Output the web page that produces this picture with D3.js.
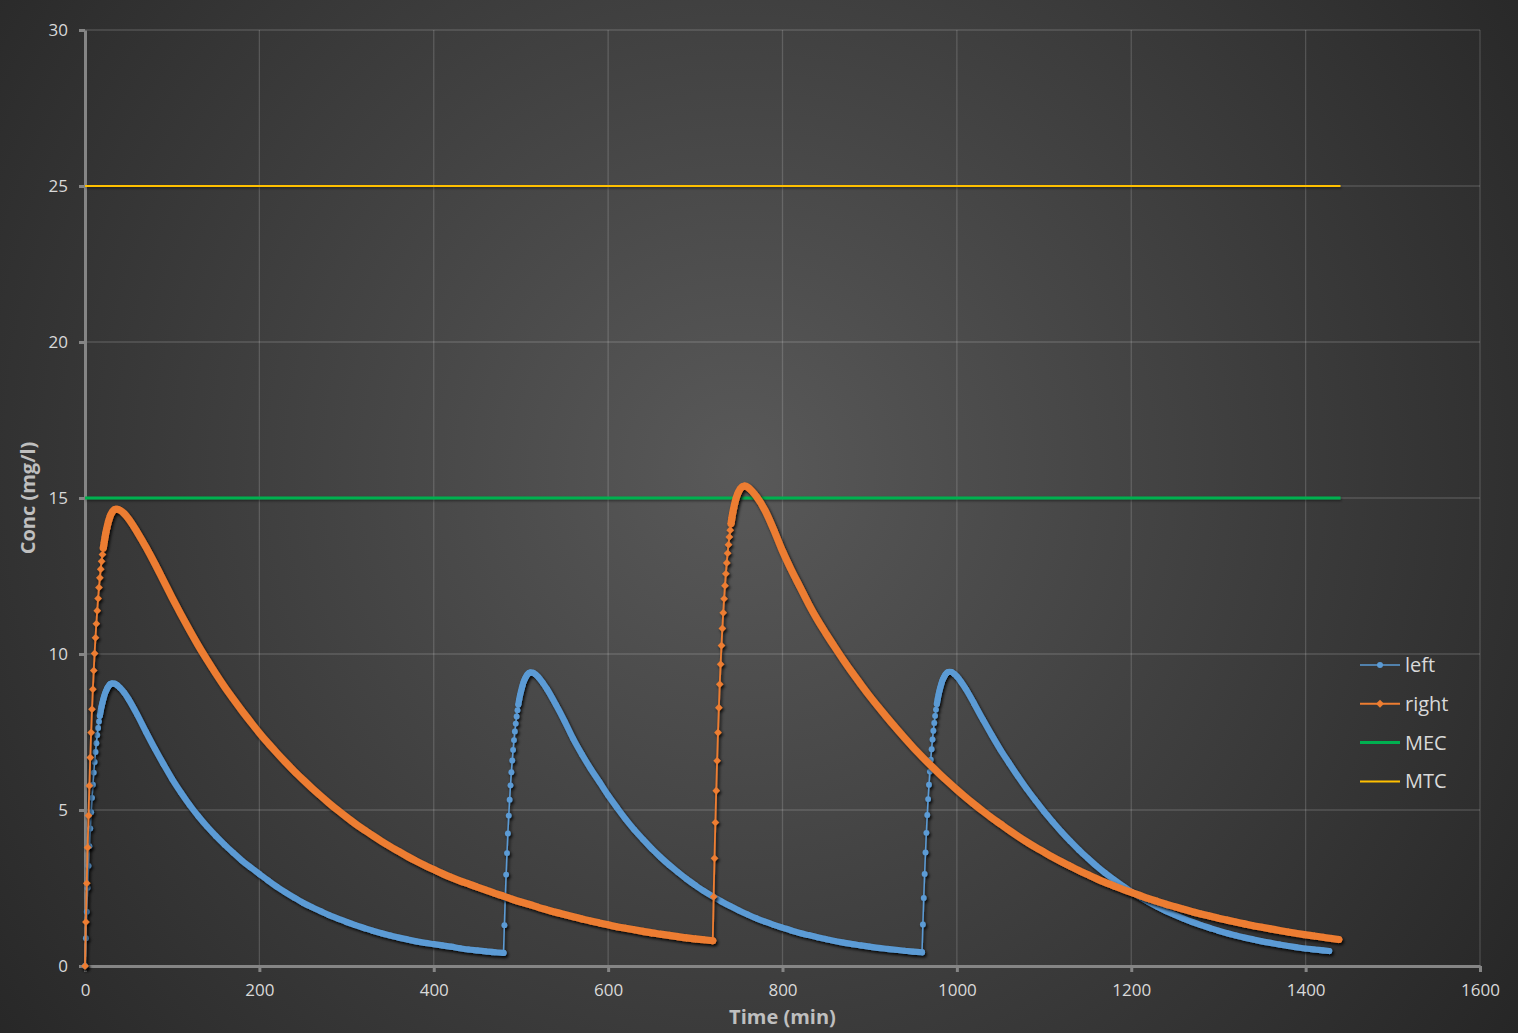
<!DOCTYPE html>
<html>
<head>
<meta charset="utf-8">
<script src="https://cdn.jsdelivr.net/npm/d3@7"></script>
<style>
  html, body { margin: 0; padding: 0; background: #2a2a2a; }
  svg { display: block; font-family: "Open Sans", "Segoe UI", sans-serif; }
</style>
</head>
<body>
<script>
// concentration data (time in min, conc in mg/l)
const leftTime = [
  0,1,2,3,4,5,6,7,8,9,10,11,12,13,14,15,16,17,18,19,20,21,22,23,24,25,26,27,28,29,30,31,
  34,37,40,45,
  50,60,70,80,90,100,110,120,130,140,150,160,170,180,190,200,210,220,230,240,250,260,270,280,290,
  300,310,320,330,340,350,360,370,380,390,400,410,420,430,440,450,460,470,480,
  481,482,483,484,485,486,487,488,489,490,491,492,493,494,495,496,497,498,499,500,501,502,503,504,505,
  506,507,508,509,510,511,
  514,517,520,525,
  530,540,550,560,570,580,590,600,610,620,630,640,650,660,670,680,690,700,710,720,730,740,750,760,770,
  780,790,800,810,820,830,840,850,860,870,880,890,900,910,920,930,940,950,960,
  961,962,963,964,965,966,967,968,969,970,971,972,973,974,975,976,977,978,979,980,981,982,983,984,985,
  986,987,988,989,990,991,
  994,997,1000,1005,
  1010,1020,1030,1040,1050,1060,1070,1080,1090,1100,1110,1120,1130,1140,1150,1160,1170,1180,1190,1200,
  1210,1220,1230,1240,1250,1260,1270,1280,1290,1300,1310,1320,1330,1340,1350,1360,1370,1380,1390,1400,
  1410,1420,1427
];
const leftConc = [
  0,0.89,1.74,2.51,3.21,3.84,4.41,4.93,5.39,5.81,6.2,6.54,6.86,7.14,7.4,7.63,7.84,8.02,8.18,8.32,8.44,
  8.55,8.65,8.74,8.81,8.87,8.93,8.97,9.01,9.04,9.05,9.06,
  9.05,9.0,8.92,8.76,
  8.55,8.05,7.5,6.97,6.47,5.99,5.56,5.16,4.8,4.47,4.17,3.89,3.63,3.38,3.16,2.95,2.74,2.54,2.36,2.19,
  2.03,1.89,1.76,1.63,1.52,1.41,1.31,1.22,1.13,1.05,0.98,0.91,0.85,0.79,0.74,0.7,0.66,0.62,0.57,0.53,
  0.5,0.47,0.44,0.42,
  1.31,2.16,2.93,3.62,4.25,4.82,5.33,5.79,6.21,6.59,6.93,7.24,7.52,7.77,8.0,8.2,8.38,8.54,8.68,8.8,
  8.91,9.01,9.1,9.17,9.23,9.28,9.33,9.36,9.39,9.4,9.41,
  9.4,9.34,9.26,9.08,
  8.87,8.38,7.85,7.28,6.78,6.32,5.9,5.47,5.08,4.71,4.37,4.06,3.76,3.49,3.24,3.01,2.79,2.59,2.4,2.23,
  2.07,1.92,1.78,1.65,1.53,1.42,1.32,1.23,1.14,1.06,0.99,0.92,0.86,0.8,0.75,0.7,0.66,0.62,0.58,0.55,
  0.52,0.49,0.46,0.44,
  1.33,2.18,2.95,3.64,4.27,4.84,5.35,5.81,6.23,6.61,6.95,7.26,7.54,7.79,8.02,8.22,8.4,8.56,8.7,8.82,
  8.93,9.03,9.12,9.19,9.25,9.3,9.35,9.38,9.41,9.42,9.43,
  9.42,9.36,9.28,9.1,
  8.89,8.4,7.89,7.4,6.93,6.5,6.08,5.68,5.31,4.95,4.62,4.3,4.0,3.72,3.46,3.21,2.98,2.77,2.57,2.38,
  2.21,2.05,1.9,1.76,1.64,1.52,1.41,1.31,1.22,1.13,1.05,0.98,0.91,0.85,0.79,0.74,0.69,0.64,0.6,0.56,
  0.53,0.5,0.48
];

const rightTime = [
  0,1,2,3,4,5,6,7,8,9,10,11,12,13,14,15,16,17,18,19,20,21,22,23,24,25,26,27,28,29,30,31,32,33,34,35,36,37,
  40,45,
  50,60,70,80,90,100,110,120,130,140,150,160,170,180,190,200,210,220,230,240,250,260,270,280,290,
  300,310,320,330,340,350,360,370,380,390,400,410,420,430,440,450,460,470,480,490,500,510,520,530,540,
  550,560,570,580,590,600,610,620,630,640,650,660,670,680,690,700,710,720,
  721,722,723,724,725,726,727,728,729,730,731,732,733,734,735,736,737,738,739,740,741,742,743,744,745,
  746,747,748,749,750,751,752,753,754,755,756,757,
  760,765,
  770,780,790,800,810,820,830,840,850,860,870,880,890,900,910,920,930,940,950,960,970,980,990,1000,
  1010,1020,1030,1040,1050,1060,1070,1080,1090,1100,1110,1120,1130,1140,1150,1160,1170,1180,1190,1200,
  1210,1220,1230,1240,1250,1260,1270,1280,1290,1300,1310,1320,1330,1340,1350,1360,1370,1380,1390,1400,
  1410,1420,1430,1438
];
const rightConc = [
  0,1.41,2.65,3.8,4.82,5.78,6.68,7.48,8.23,8.87,9.47,10.02,10.52,10.97,11.39,11.78,12.13,12.44,12.72,
  12.97,13.19,13.4,13.58,13.75,13.9,14.03,14.15,14.26,14.35,14.43,14.49,14.54,14.58,14.61,14.63,14.64,
  14.64,14.64,
  14.61,14.5,
  14.33,13.9,13.42,12.9,12.35,11.8,11.27,10.76,10.27,9.81,9.37,8.95,8.56,8.18,7.82,7.47,7.14,6.83,6.53,
  6.24,5.97,5.71,5.46,5.22,4.99,4.77,4.56,4.37,4.18,4.0,3.83,3.67,3.51,3.36,3.22,3.09,2.96,2.84,2.73,
  2.63,2.53,2.43,2.33,2.24,2.14,2.05,1.97,1.88,1.8,1.72,1.65,1.58,1.51,1.44,1.38,1.32,1.26,1.21,1.16,
  1.11,1.06,1.02,0.98,0.94,0.9,0.87,0.84,0.81,
  2.22,3.45,4.6,5.62,6.58,7.48,8.28,9.03,9.67,10.27,10.82,11.32,11.77,12.19,12.57,12.92,13.23,13.5,
  13.75,13.97,14.18,14.37,14.53,14.67,14.8,14.91,15.01,15.09,15.16,15.22,15.27,15.31,15.34,15.36,15.37,
  15.38,15.38,
  15.35,15.22,
  15.05,14.6,13.98,13.3,12.7,12.15,11.6,11.1,10.65,10.22,9.8,9.4,9.02,8.65,8.3,7.96,7.63,7.31,7.0,6.71,
  6.43,6.16,5.9,5.65,5.41,5.18,4.96,4.75,4.55,4.35,4.16,3.98,3.81,3.65,3.49,3.34,3.2,3.06,2.93,2.8,
  2.68,2.57,2.46,2.36,2.26,2.16,2.07,1.98,1.9,1.82,1.74,1.67,1.6,1.53,1.47,1.41,1.35,1.29,1.24,1.19,
  1.14,1.09,1.04,1.0,0.96,0.92,0.88,0.85
];

// reference levels
const mecLevel = 15;
const mtcLevel = 25;
const levelSpan = [0, 1440];

const xTicks = [0, 200, 400, 600, 800, 1000, 1200, 1400, 1600];
const yTicks = [0, 5, 10, 15, 20, 25, 30];

const W = 1518, H = 1033;
const m = {top: 30, right: 38, bottom: 67, left: 85};

const x = d3.scaleLinear().domain([0, 1600]).range([m.left, W - m.right]);
const y = d3.scaleLinear().domain([0, 30]).range([H - m.bottom, m.top]);

const svg = d3.select('body').append('svg')
    .attr('width', W)
    .attr('height', H);

const defs = svg.append('defs');
const bg = defs.append('radialGradient')
    .attr('id', 'bg')
    .attr('gradientUnits', 'userSpaceOnUse')
    .attr('cx', 740).attr('cy', 470).attr('r', 960);
bg.append('stop').attr('offset', '0%').attr('stop-color', '#595959');
bg.append('stop').attr('offset', '100%').attr('stop-color', '#262626');

const shadow = defs.append('filter')
    .attr('id', 'shadow')
    .attr('filterUnits', 'userSpaceOnUse')
    .attr('x', 0).attr('y', 0)
    .attr('width', W).attr('height', H);
shadow.append('feDropShadow')
    .attr('dx', 1.5).attr('dy', 2)
    .attr('stdDeviation', 1.8)
    .attr('flood-color', '#000')
    .attr('flood-opacity', 0.9);

const softShadow = defs.append('filter')
    .attr('id', 'softShadow')
    .attr('filterUnits', 'userSpaceOnUse')
    .attr('x', 0).attr('y', 0)
    .attr('width', W).attr('height', H);
softShadow.append('feDropShadow')
    .attr('dx', 1).attr('dy', 1.5)
    .attr('stdDeviation', 1.2)
    .attr('flood-color', '#000')
    .attr('flood-opacity', 0.45);

svg.append('rect')
    .attr('width', W).attr('height', H)
    .attr('fill', 'url(#bg)');

// gridlines
const grid = svg.append('g');
grid.selectAll('.gx')
    .data(xTicks.slice(1))
    .enter().append('line')
    .attr('x1', d => x(d)).attr('x2', d => x(d))
    .attr('y1', y(0)).attr('y2', y(30))
    .attr('stroke', 'rgba(255,255,255,0.16)')
    .attr('stroke-width', 1.3);
grid.selectAll('.gy')
    .data(yTicks.slice(1))
    .enter().append('line')
    .attr('x1', x(0)).attr('x2', x(1600))
    .attr('y1', d => y(d)).attr('y2', d => y(d))
    .attr('stroke', 'rgba(255,255,255,0.16)')
    .attr('stroke-width', 1.3);

// axes
const axisColor = '#858585';
const tickColor = '#d9d9d9';

const yAxis = svg.append('g')
    .attr('transform', 'translate(' + x(0) + ',0)')
    .call(d3.axisLeft(y).tickValues(yTicks).tickFormat(d3.format('d'))
        .tickSize(6).tickSizeOuter(0).tickPadding(11));
const xAxis = svg.append('g')
    .attr('transform', 'translate(0,' + y(0) + ')')
    .call(d3.axisBottom(x).tickValues(xTicks).tickFormat(d3.format('d'))
        .tickSize(6).tickSizeOuter(0).tickPadding(12));

[xAxis, yAxis].forEach(a => {
  a.select('.domain').attr('stroke', axisColor).attr('stroke-width', 3);
  a.selectAll('.tick line').attr('stroke', axisColor).attr('stroke-width', 3);
  a.selectAll('.tick text')
      .attr('fill', tickColor)
      .style('font-size', '17px')
      .style('font-family', '"Open Sans", sans-serif');
});

svg.append('text')
    .attr('x', (x(0) + x(1600)) / 2)
    .attr('y', 1024)
    .attr('text-anchor', 'middle')
    .attr('fill', '#bfbfbf')
    .style('font-size', '20px')
    .style('font-weight', 'bold')
    .text('Time (min)');

svg.append('text')
    .attr('transform', 'translate(35,' + (y(0) + y(30)) / 2 + ') rotate(-90)')
    .attr('text-anchor', 'middle')
    .attr('fill', '#bfbfbf')
    .style('font-size', '20px')
    .style('font-weight', 'bold')
    .text('Conc (mg/l)');

// MEC / MTC levels
const levels = [
  {name: 'MEC', value: mecLevel, color: '#00b050', width: 3},
  {name: 'MTC', value: mtcLevel, color: '#ffc000', width: 2}
];
svg.append('g').attr('filter', 'url(#softShadow)')
    .selectAll('.level')
    .data(levels)
    .enter().append('line')
    .attr('x1', x(levelSpan[0])).attr('x2', x(levelSpan[1]))
    .attr('y1', d => y(d.value)).attr('y2', d => y(d.value))
    .attr('stroke', d => d.color)
    .attr('stroke-width', d => d.width);

// concentration series
const diamond = s => 'M0,' + (-s) + 'L' + s + ',0L0,' + s + 'L' + (-s) + ',0Z';

const series = [
  {name: 'left', t: leftTime, v: leftConc, color: '#5b9bd5', lineW: 1.5, band: 6.2, shape: 'circle', r: 2.9},
  {name: 'right', t: rightTime, v: rightConc, color: '#ed7d31', lineW: 1.8, band: 7.2, shape: 'diamond', r: 3.8}
];

series.forEach(s => {
  const pts = s.t.map((t, i) => [x(t), y(s.v[i]), t]);
  const g = svg.append('g').attr('filter', 'url(#shadow)');

  g.append('path')
      .attr('d', d3.line()(pts.map(p => [p[0], p[1]])))
      .attr('fill', 'none')
      .attr('stroke', s.color)
      .attr('stroke-width', s.lineW);

  // where markers sit closer than their own size they merge into a solid band
  const runs = [];
  let run = null;
  for (let i = 0; i < pts.length - 1; i++) {
    const a = pts[i], b = pts[i + 1];
    const dense = (b[2] - a[2] > 1) || Math.hypot(b[0] - a[0], b[1] - a[1]) < s.band * 0.9;
    if (dense) {
      if (!run) { run = [a]; runs.push(run); }
      run.push(b);
    } else {
      run = null;
    }
  }
  const bandLine = d3.line().x(p => p[0]).y(p => p[1]).curve(d3.curveMonotoneX);
  g.selectAll('.band')
      .data(runs)
      .enter().append('path')
      .attr('d', bandLine)
      .attr('fill', 'none')
      .attr('stroke', s.color)
      .attr('stroke-width', s.band)
      .attr('stroke-linecap', 'round')
      .attr('stroke-linejoin', 'round');

  if (s.shape === 'circle') {
    g.selectAll('.mk')
        .data(pts)
        .enter().append('circle')
        .attr('cx', p => p[0]).attr('cy', p => p[1])
        .attr('r', s.r)
        .attr('fill', s.color);
  } else {
    g.selectAll('.mk')
        .data(pts)
        .enter().append('path')
        .attr('transform', p => 'translate(' + p[0] + ',' + p[1] + ')')
        .attr('d', diamond(s.r))
        .attr('fill', s.color);
  }
});

// legend
const legendItems = [
  {name: 'left', color: '#5b9bd5', width: 1.5, marker: 'circle'},
  {name: 'right', color: '#ed7d31', width: 2, marker: 'diamond'},
  {name: 'MEC', color: '#00b050', width: 3, marker: null},
  {name: 'MTC', color: '#ffc000', width: 2, marker: null}
];
const legend = svg.append('g').attr('transform', 'translate(1360,665)');
const li = legend.selectAll('.li')
    .data(legendItems)
    .enter().append('g')
    .attr('transform', (d, i) => 'translate(0,' + (i * 38.8) + ')');
li.append('line')
    .attr('x1', 0).attr('x2', 40)
    .attr('stroke', d => d.color)
    .attr('stroke-width', d => d.width);
li.filter(d => d.marker === 'circle').append('circle')
    .attr('cx', 20).attr('r', 3).attr('fill', d => d.color);
li.filter(d => d.marker === 'diamond').append('path')
    .attr('transform', 'translate(20,0)')
    .attr('d', diamond(4)).attr('fill', d => d.color);
li.append('text')
    .attr('x', 45).attr('y', 7)
    .attr('fill', '#d9d9d9')
    .style('font-size', '20px')
    .text(d => d.name);
</script>
</body>
</html>
